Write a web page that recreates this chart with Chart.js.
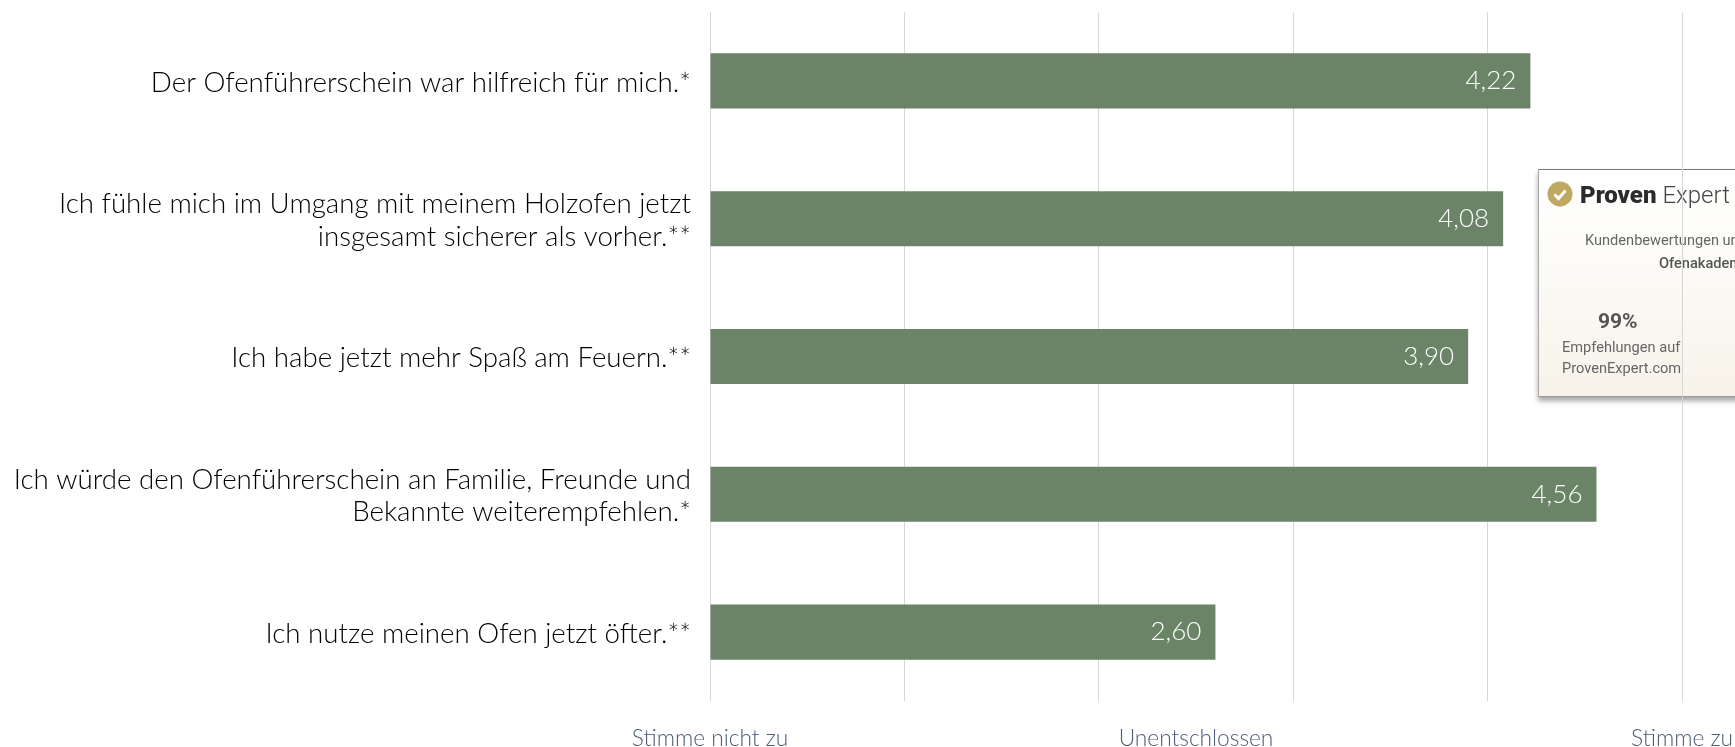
<!DOCTYPE html>
<html lang="de">
<head>
<meta charset="utf-8">
<title>Ofenführerschein</title>
<script src="https://cdn.jsdelivr.net/npm/chart.js@4"></script>
<style>
html,body{margin:0;padding:0;width:1735px;height:747px;overflow:hidden;background:#fff}
#wrap{position:relative;width:1735px;height:747px;overflow:hidden}
canvas{position:absolute;left:0;top:0;z-index:2}
#badge{position:absolute;left:1538px;top:169px;width:260px;height:228px;box-sizing:border-box;z-index:1;
 background:linear-gradient(#ffffff 0%,#fdfcf9 30%,#f7f3ea 100%);border-top:1px solid #777;border-left:1px solid #aaa;border-bottom:1px solid #999;
 box-shadow:0 4px 5px rgba(0,0,0,.35);font-family:Roboto,sans-serif;color:#666;overflow:hidden}
#badge div,#badge svg{position:absolute;white-space:nowrap;line-height:1;filter:blur(.4px)}
</style>
</head>
<body>
<div id="wrap">
<div id="badge">
 <svg style="left:8px;top:11px" width="26" height="26" viewBox="0 0 26 26"><circle cx="13" cy="13" r="12.5" fill="#bfa862"/><path d="M7.5 13.5l4 4 7-8" fill="none" stroke="#fff" stroke-width="3"/></svg>
 <div style="left:41px;top:13px;font-size:24px;color:#2b2b2b"><b style="font-weight:900">Proven</b> <span style="font-weight:300;color:#444">Expert</span></div>
 <div style="left:46px;top:63px;font-size:14.6px">Kundenbewertungen und Erfahrungen für</div>
 <div style="left:120px;top:86px;font-size:14.6px;font-weight:500;color:#555">Ofenakademie</div>
 <div style="left:59px;top:141px;font-size:21px;font-weight:700;color:#555">99%</div>
 <div style="left:23px;top:170px;font-size:14.6px">Empfehlungen auf</div>
 <div style="left:23px;top:191px;font-size:14.6px">ProvenExpert.com</div>
</div>
<canvas id="c" width="1735" height="747"></canvas>
</div>
<script>
const categories = [
  ["Der Ofenführerschein war hilfreich für mich.*"],
  ["Ich fühle mich im Umgang mit meinem Holzofen jetzt","insgesamt sicherer als vorher.**"],
  ["Ich habe jetzt mehr Spaß am Feuern.**"],
  ["Ich würde den Ofenführerschein an Familie, Freunde und","Bekannte weiterempfehlen.*"],
  ["Ich nutze meinen Ofen jetzt öfter.**"]
];
const values = [4.22, 4.08, 3.90, 4.56, 2.60];
const gridTicks = [0, 1, 2, 3, 4, 5];
const labelTicks = [0, 2.5, 5];
const tickLabels = ["Stimme nicht zu", "Unentschlossen", "Stimme zu"];

const FONT = "Lato, 'Open Sans', sans-serif";

const valueLabels = {
  id: "valueLabels",
  afterDatasetsDraw(chart) {
    const ctx = chart.ctx;
    const meta = chart.getDatasetMeta(0);
    ctx.save();
    ctx.font = "300 26px " + FONT;
    ctx.fillStyle = "#ffffff";
    ctx.textAlign = "right";
    ctx.textBaseline = "middle";
    meta.data.forEach((bar, i) => {
      ctx.fillText(values[i].toFixed(2).replace(".", ","), bar.x - 14, bar.y);
    });
    ctx.restore();
  }
};

new Chart(document.getElementById("c"), {
  type: "bar",
  data: {
    labels: categories,
    datasets: [{
      data: values,
      backgroundColor: "#6b8468",
      borderWidth: 0,
      barPercentage: 0.4,
      categoryPercentage: 1
    }]
  },
  options: {
    indexAxis: "y",
    responsive: false,
    animation: false,
    layout: { padding: { top: 12, right: 53, left: 0, bottom: 0 } },
    plugins: { legend: { display: false }, tooltip: { enabled: false } },
    scales: {
      x: {
        type: "linear",
        min: 0,
        max: 5,
        afterBuildTicks(axis) {
          axis.ticks = [...new Set([...gridTicks, ...labelTicks])].sort((a, b) => a - b).map(v => ({ value: v }));
        },
        afterFit(axis) { axis.height = 46; axis.paddingLeft = 0; axis.paddingRight = 0; },
        border: { display: false },
        grid: {
          drawTicks: false,
          lineWidth: 1,
          color: c => gridTicks.includes(c.tick.value) ? "#d6d6d6" : "rgba(0,0,0,0)"
        },
        ticks: {
          autoSkip: false,
          maxRotation: 0,
          padding: 24,
          color: "#4d5b75",
          font: { family: FONT, size: 22.7, weight: "300" },
          callback: v => { const i = labelTicks.indexOf(v); return i < 0 ? "" : tickLabels[i]; }
        }
      },
      y: {
        type: "category",
        afterFit(axis) { axis.width = 710; axis.paddingTop = 0; axis.paddingBottom = 0; },
        border: { display: false },
        grid: { display: false, drawTicks: false },
        ticks: {
          padding: 19,
          labelOffset: 2,
          color: "#000000",
          crossAlign: "near",
          font: { family: FONT, size: 27.7, weight: "300", lineHeight: 1.17 }
        }
      }
    }
  },
  plugins: [valueLabels]
});
</script>
</body>
</html>
